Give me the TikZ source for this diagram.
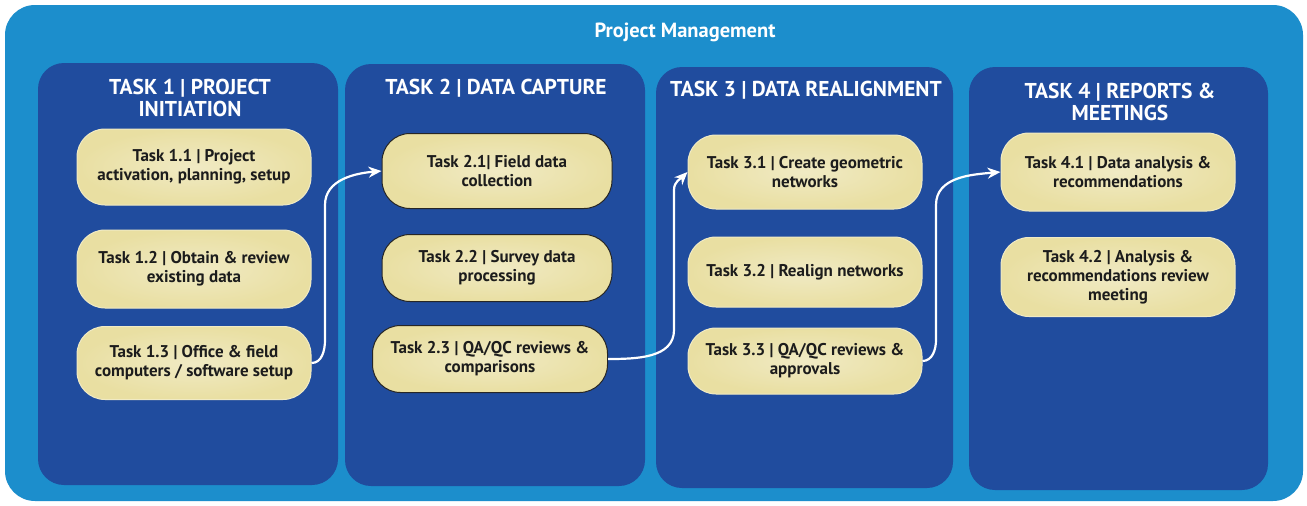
\documentclass[tikz,border=0pt]{standalone}
\usepackage{fontspec}
\setmainfont{PT Sans}
\usetikzlibrary{arrows.meta}
\definecolor{outerblue}{RGB}{28,142,204}
\definecolor{colblue}{RGB}{32,76,158}
\definecolor{boxyel}{RGB}{233,223,162}
\definecolor{boxyellight}{RGB}{240,234,196}
\definecolor{boxtext}{RGB}{28,28,28}
\tikzset{
  colbox/.style={fill=colblue, rounded corners=26pt},
  colhead/.style={text=white, font=\bfseries\fontsize{21.5}{22}\selectfont, align=center},
  taskbox/.style={rounded corners=28pt, inner color=boxyellight, outer color=boxyel,
     draw=boxyellight, line width=1pt, text=boxtext, align=center,
     font=\bfseries\fontsize{17}{19}\selectfont, inner sep=0pt},
  taskdark/.style={taskbox, draw=black!85, line width=1pt},
  flow/.style={draw=white, line width=2.2pt, -{Stealth[length=13pt,width=11pt]}}
}
\begin{document}
\begin{tikzpicture}[x=1pt,y=-1pt]
\useasboundingbox (0,0) rectangle (1307,506);
\fill[white] (0,0) rectangle (1307,506);
% outer panel
\fill[outerblue, rounded corners=30pt] (5,5) rectangle (1303,501);
\node[text=white, font=\bfseries\fontsize{20.5}{22}\selectfont] (title) at (685,32) {Project Management};
% columns
\fill[colbox] (38,63) rectangle (338,485);
\fill[colbox] (345,64) rectangle (645,486);
\fill[colbox] (656,67) rectangle (953,488);
\fill[colbox] (969,67) rectangle (1268,490);
% headers
\node[colhead] (h1) at (190,98) {TASK 1 | PROJECT\\INITIATION};
\node[colhead] (h2) at (496,88) {TASK 2 | DATA CAPTURE};
\node[colhead] (h3) at (806,90) {TASK 3 | DATA REALIGNMENT};
\node[colhead] (h4) at (1120,102) {TASK 4 | REPORTS \&\\MEETINGS};
% tasks
\node[taskbox, minimum width=234pt, minimum height=76pt] (t11) at (194,167) {Task 1.1 | Project\\activation, planning, setup};
\node[taskbox, minimum width=234pt, minimum height=78pt] (t12) at (194,269) {Task 1.2 | Obtain \& review\\existing data};
\node[taskbox, minimum width=234pt, minimum height=73pt] (t13) at (194,363) {Task 1.3 | Office \& field\\computers / software setup};
\node[taskdark, minimum width=230pt, minimum height=75pt] (t21) at (497,171) {Task 2.1| Field data\\collection};
\node[taskdark, minimum width=230pt, minimum height=67pt] (t22) at (497,268) {Task 2.2 | Survey data\\processing};
\node[taskdark, minimum width=235pt, minimum height=67pt] (t23) at (490,359) {Task 2.3 | QA/QC reviews \&\\comparisons};
\node[taskbox, minimum width=234pt, minimum height=74pt] (t31) at (805,172) {Task 3.1 | Create geometric\\networks};
\node[taskbox, minimum width=234pt, minimum height=70pt] (t32) at (805,272) {Task 3.2 | Realign networks};
\node[taskbox, minimum width=234pt, minimum height=66pt] (t33) at (805,361) {Task 3.3 | QA/QC reviews \&\\approvals};
\node[taskbox, minimum width=234pt, minimum height=78pt] (t41) at (1118,172) {Task 4.1 | Data analysis \&\\recommendations};
\node[taskbox, minimum width=234pt, minimum height=79pt] (t42) at (1118,277) {Task 4.2 | Analysis \&\\recommendations review\\meeting};
% connector way points
\coordinate (a1) at (325,340);
\coordinate (a2) at (325,205);
\coordinate (b1) at (674,330);
\coordinate (b2) at (674,190);
\coordinate (c1) at (936,340);
\coordinate (c2) at (936,205);
% connectors
\draw[flow] (t13.east) to[out=0,in=-90] (a1) -- (a2) to[out=90,in=185] (t21.west);
\draw[flow] (t23.east) to[out=0,in=-90] (b1) -- (b2) to[out=90,in=225] (t31.west);
\draw[flow] (t33.east) to[out=0,in=-90] (c1) -- (c2) to[out=90,in=185] (t41.west);
\end{tikzpicture}
\end{document}
